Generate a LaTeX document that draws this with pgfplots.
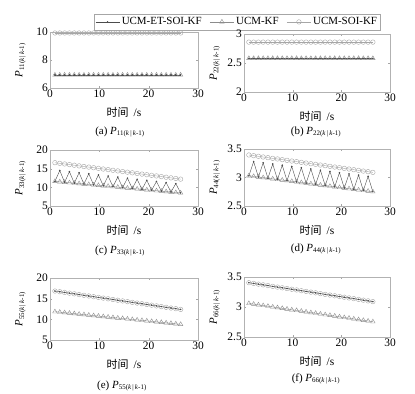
\documentclass[border=0pt]{standalone}
\usepackage{pgfplots}
\pgfplotsset{compat=1.18}
\usepackage{pgfplotstable}
\usepackage{fontspec}
\setmainfont{Liberation Serif}
\newfontfamily\cjk{Noto Sans CJK SC}
\definecolor{cET}{gray}{0.3}
\definecolor{cKF}{gray}{0.55}
\definecolor{cSOI}{gray}{0.65}

\pgfplotstableread{
t et kf soi
1.00 6.93 6.93 9.93
1.98 6.93 6.93 9.93
2.96 6.93 6.93 9.93
3.94 6.93 6.93 9.93
4.92 6.93 6.93 9.93
5.90 6.93 6.93 9.93
6.88 6.93 6.93 9.93
7.86 6.93 6.93 9.93
8.84 6.93 6.93 9.93
9.82 6.93 6.93 9.93
10.80 6.93 6.93 9.93
11.78 6.93 6.93 9.93
12.76 6.93 6.93 9.93
13.74 6.93 6.93 9.93
14.72 6.93 6.93 9.93
15.70 6.93 6.93 9.93
16.68 6.93 6.93 9.93
17.66 6.93 6.93 9.93
18.64 6.93 6.93 9.93
19.62 6.93 6.93 9.93
20.60 6.93 6.93 9.93
21.58 6.93 6.93 9.93
22.56 6.93 6.93 9.93
23.54 6.93 6.93 9.93
24.52 6.93 6.93 9.93
25.50 6.93 6.93 9.93
26.48 6.93 6.93 9.93
}\tabA

\pgfplotstableread{
t et kf soi
1.00 2.58 2.58 2.86
1.98 2.58 2.58 2.86
2.96 2.58 2.58 2.86
3.94 2.58 2.58 2.86
4.92 2.58 2.58 2.86
5.90 2.58 2.58 2.86
6.88 2.58 2.58 2.86
7.86 2.58 2.58 2.86
8.84 2.58 2.58 2.86
9.82 2.58 2.58 2.86
10.80 2.58 2.58 2.86
11.78 2.58 2.58 2.86
12.76 2.58 2.58 2.86
13.74 2.58 2.58 2.86
14.72 2.58 2.58 2.86
15.70 2.58 2.58 2.86
16.68 2.58 2.58 2.86
17.66 2.58 2.58 2.86
18.64 2.58 2.58 2.86
19.62 2.58 2.58 2.86
20.60 2.58 2.58 2.86
21.58 2.58 2.58 2.86
22.56 2.58 2.58 2.86
23.54 2.58 2.58 2.86
24.52 2.58 2.58 2.86
25.50 2.58 2.58 2.86
26.48 2.58 2.58 2.86
}\tabB

\pgfplotstableread{
t et kf soi
1.00 11.60 11.60 16.60
1.98 14.50 11.48 16.43
2.96 11.36 11.36 16.26
3.94 14.21 11.24 16.09
4.92 11.12 11.12 15.92
5.90 13.92 11.00 15.75
6.88 10.88 10.88 15.58
7.86 13.63 10.77 15.42
8.84 10.65 10.65 15.25
9.82 13.33 10.53 15.08
10.80 10.41 10.41 14.91
11.78 13.04 10.29 14.74
12.76 10.17 10.17 14.57
13.74 12.75 10.05 14.40
14.72 9.93 9.93 14.23
15.70 12.46 9.81 14.06
16.68 9.69 9.69 13.89
17.66 12.17 9.57 13.72
18.64 9.45 9.45 13.55
19.62 11.88 9.34 13.38
20.60 9.22 9.22 13.22
21.58 11.58 9.10 13.05
22.56 8.98 8.98 12.88
23.54 11.29 8.86 12.71
24.52 8.74 8.74 12.54
25.50 11.00 8.62 12.37
26.48 8.50 8.50 12.20
}\tabC

\pgfplotstableread{
t et kf soi
1.00 3.030 3.030 3.395
1.98 3.280 3.019 3.383
2.96 3.008 3.008 3.372
3.94 3.258 2.998 3.360
4.92 2.987 2.987 3.348
5.90 3.237 2.976 3.336
6.88 2.965 2.965 3.325
7.86 3.215 2.955 3.313
8.84 2.944 2.944 3.301
9.82 3.193 2.933 3.289
10.80 2.922 2.922 3.278
11.78 3.172 2.912 3.266
12.76 2.901 2.901 3.254
13.74 3.150 2.890 3.242
14.72 2.879 2.879 3.231
15.70 3.128 2.868 3.219
16.68 2.858 2.858 3.207
17.66 3.107 2.847 3.196
18.64 2.836 2.836 3.184
19.62 3.085 2.825 3.172
20.60 2.815 2.815 3.160
21.58 3.063 2.804 3.149
22.56 2.793 2.793 3.137
23.54 3.042 2.782 3.125
24.52 2.772 2.772 3.113
25.50 3.020 2.761 3.102
26.48 2.750 2.750 3.090
}\tabD

\pgfplotstableread{
t et kf soi
1.00 16.85 11.85 16.85
1.98 16.68 11.73 16.68
2.96 16.51 11.62 16.51
3.94 16.34 11.50 16.34
4.92 16.17 11.38 16.17
5.90 15.99 11.26 15.99
6.88 15.82 11.15 15.82
7.86 15.65 11.03 15.65
8.84 15.48 10.91 15.48
9.82 15.31 10.79 15.31
10.80 15.14 10.68 15.14
11.78 14.97 10.56 14.97
12.76 14.80 10.44 14.80
13.74 14.62 10.32 14.62
14.72 14.45 10.21 14.45
15.70 14.28 10.09 14.28
16.68 14.11 9.97 14.11
17.66 13.94 9.85 13.94
18.64 13.77 9.74 13.77
19.62 13.60 9.62 13.60
20.60 13.43 9.50 13.43
21.58 13.25 9.38 13.25
22.56 13.08 9.27 13.08
23.54 12.91 9.15 12.91
24.52 12.74 9.03 12.74
25.50 12.57 8.91 12.57
26.48 12.40 8.80 12.40
}\tabE

\pgfplotstableread{
t et kf soi
1.00 3.405 3.060 3.405
1.98 3.393 3.048 3.393
2.96 3.381 3.037 3.381
3.94 3.369 3.025 3.369
4.92 3.357 3.013 3.357
5.90 3.344 3.001 3.344
6.88 3.332 2.990 3.332
7.86 3.320 2.978 3.320
8.84 3.308 2.966 3.308
9.82 3.296 2.954 3.296
10.80 3.284 2.943 3.284
11.78 3.272 2.931 3.272
12.76 3.260 2.919 3.260
13.74 3.248 2.907 3.248
14.72 3.236 2.896 3.236
15.70 3.223 2.884 3.223
16.68 3.211 2.872 3.211
17.66 3.199 2.861 3.199
18.64 3.187 2.849 3.187
19.62 3.175 2.837 3.175
20.60 3.163 2.825 3.163
21.58 3.151 2.814 3.151
22.56 3.139 2.802 3.139
23.54 3.127 2.790 3.127
24.52 3.114 2.778 3.114
25.50 3.102 2.767 3.102
26.48 3.090 2.755 3.090
}\tabF

\pgfplotsset{
  panel/.style={
    scale only axis, anchor=north west,
    xmin=0, xmax=30, xtick={0,10,20,30},
    axis line style={gray!60},
    tick style={gray!70, major tick length=2bp},
    tick label style={font=\fontsize{11.5}{12}\selectfont},
    /pgf/number format/assume math mode=true,
    xticklabel style={inner sep=1.5bp},
    yticklabel style={inner sep=2bp},
    xlabel={{\cjk\fontsize{11}{12}\selectfont 时间}~~{\fontsize{11.5}{12}\selectfont /s}},
    xlabel style={at={(axis description cs:0.5,0)}, anchor=center, yshift=-24bp},
    ylabel style={at={(axis description cs:-0.2,0.5)}, anchor=center},
  },
  pET/.style={cET, line width=0.4pt, mark=*, mark size=0.55pt, mark options={fill=cET}},
  pKF/.style={cKF, line width=0.4pt, mark=triangle, mark size=2.6pt, mark options={line width=0.4pt}},
  pSOI/.style={cSOI, line width=0.4pt, mark=o, mark size=2.3pt, mark options={line width=0.4pt}},
}
\newcommand{\Pl}[1]{\textit{P}\textsubscript{\fontsize{7}{8}\selectfont#1(\textit{k}\,|\,\textit{k}-1)}}

\begin{document}
\begin{tikzpicture}
\path[use as bounding box] (0,0) rectangle (415bp,-394bp);

% (a)
\begin{axis}[panel, at={(50bp,-32bp)}, width=148bp, height=56bp,
  ymin=6, ymax=10, ytick={6,8,10},
  ylabel={\fontsize{11}{12}\selectfont\Pl{11}},
  legend columns=3,
  legend style={at={(axis description cs:1.265,1.18)}, anchor=center,
    draw=gray!70, font=\fontsize{11}{12}\selectfont, inner sep=1.5bp,
    /tikz/every even column/.append style={column sep=6bp}},
  legend image code/.code={\draw[#1] (0bp,0bp) -- (24bp,0bp); \draw[#1, only marks] plot coordinates {(12bp,0bp)};},
  legend cell align=left]
\addplot[pET] table[x=t,y=et] {\tabA};
\addplot[pKF] table[x=t,y=kf] {\tabA};
\addplot[pSOI] table[x=t,y=soi] {\tabA};
\addplot[pET, forget plot] table[x=t,y=et] {\tabA};
\legend{UCM-ET-SOI-KF, UCM-KF, UCM-SOI-KF}
\end{axis}

% (b)
\begin{axis}[panel, at={(244bp,-34bp)}, width=146bp, height=58bp,
  ymin=2, ymax=3, ytick={2,2.5,3},
  ylabel={\fontsize{11}{12}\selectfont\Pl{22}}]
\addplot[pKF] table[x=t,y=kf] {\tabB};
\addplot[pSOI] table[x=t,y=soi] {\tabB};
\addplot[pET] table[x=t,y=et] {\tabB};
\end{axis}

% (c)
\begin{axis}[panel, at={(50bp,-150bp)}, width=148bp, height=56bp,
  ymin=5, ymax=20, ytick={5,10,15,20},
  ylabel={\fontsize{11}{12}\selectfont\Pl{33}}]
\addplot[pKF] table[x=t,y=kf] {\tabC};
\addplot[pSOI] table[x=t,y=soi] {\tabC};
\addplot[pET] table[x=t,y=et] {\tabC};
\end{axis}

% (d)
\begin{axis}[panel, at={(244bp,-149bp)}, width=146bp, height=57bp,
  ymin=2.5, ymax=3.5, ytick={2.5,3,3.5},
  ylabel={\fontsize{11}{12}\selectfont\Pl{44}}]
\addplot[pKF] table[x=t,y=kf] {\tabD};
\addplot[pSOI] table[x=t,y=soi] {\tabD};
\addplot[pET] table[x=t,y=et] {\tabD};
\end{axis}

% (e)
\begin{axis}[panel, at={(50bp,-278bp)}, width=148bp, height=62bp,
  ymin=5, ymax=20, ytick={5,10,15,20},
  ylabel={\fontsize{11}{12}\selectfont\Pl{55}}]
\addplot[pKF] table[x=t,y=kf] {\tabE};
\addplot[pSOI] table[x=t,y=soi] {\tabE};
\addplot[pET] table[x=t,y=et] {\tabE};
\end{axis}

% (f)
\begin{axis}[panel, at={(244bp,-277bp)}, width=146bp, height=60bp,
  ymin=2.5, ymax=3.5, ytick={2.5,3,3.5},
  ylabel={\fontsize{11}{12}\selectfont\Pl{66}}]
\addplot[pKF] table[x=t,y=kf] {\tabF};
\addplot[pSOI] table[x=t,y=soi] {\tabF};
\addplot[pET] table[x=t,y=et] {\tabF};
\end{axis}

% captions
\begin{scope}[every node/.style={font=\fontsize{11}{12}\selectfont, inner sep=0pt}]
\node at (120bp,-132bp) {(a)~\Pl{11}};
\node at (316bp,-132bp) {(b)~\Pl{22}};
\node at (120bp,-251bp) {(c)~\Pl{33}};
\node at (316bp,-249bp) {(d)~\Pl{44}};
\node at (122bp,-386bp) {(e)~\Pl{55}};
\node at (316bp,-379bp) {(f)~\Pl{66}};
\end{scope}
\end{tikzpicture}
\end{document}
